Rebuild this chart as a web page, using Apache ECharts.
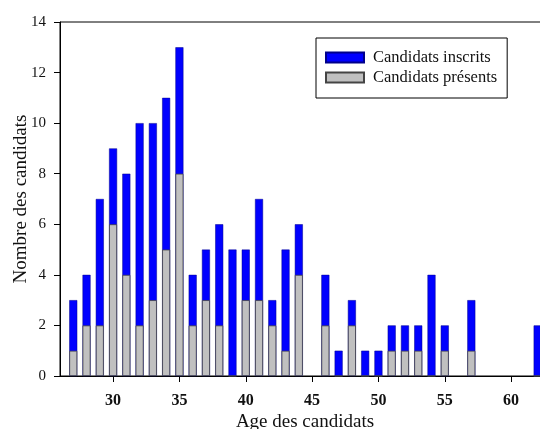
<!DOCTYPE html>
<html><head><meta charset="utf-8">
<script src="https://cdn.jsdelivr.net/npm/echarts@6/dist/echarts.min.js"></script>
<style>html,body{margin:0;padding:0;background:#fff}#c{width:540px;height:429px}</style>
</head><body><div id="c"></div>
<script>
const ages     = [27,28,29,30,31,32,33,34,35,36,37,38,39,40,41,42,43,44,46,47,48,49,50,51,52,53,54,55,57,62];
const inscrits = [ 3, 4, 7, 9, 8,10,10,11,13, 4, 5, 6, 5, 5, 7, 3, 5, 6, 4, 1, 3, 1, 1, 2, 2, 2, 4, 2, 3, 2];
const presents = [ 1, 2, 2, 6, 4, 2, 3, 5, 8, 2, 3, 2, 0, 3, 3, 2, 1, 4, 2, 0, 2, 0, 0, 1, 1, 1, 0, 1, 1, 0];
const xTicks   = [30,35,40,45,50,55,60];

const font = '"Liberation Serif","Times New Roman",serif';
const chart = echarts.init(document.getElementById('c'), null, {renderer:'canvas'});
chart.setOption({
  backgroundColor:'#fff',
  animation:false,
  grid:{left:60, top:22, width:490, height:354, show:true, borderColor:'#000', borderWidth:1,
        outerBoundsMode:'none', containLabel:false},
  legend:{
    orient:'vertical', left:316, top:38,
    borderColor:'#000', borderWidth:1, padding:[11,10,12,9],
    itemWidth:38, itemHeight:10, itemGap:3,
    icon:'rect',
    textStyle:{fontFamily:font, fontSize:16.5, color:'#111', padding:[0,0,0,4]},
    data:['Candidats inscrits','Candidats présents']
  },
  xAxis:{
    type:'value', min:26, max:62.93,
    name:'Age des candidats', nameLocation:'middle', nameGap:37, nameMoveOverlap:false,
    nameTextStyle:{fontFamily:font, fontSize:19, color:'#111'},
    splitLine:{show:false},
    axisLine:{lineStyle:{color:'#000', width:1}},
    axisTick:{show:true, length:6, lineStyle:{color:'#000'}, customValues:xTicks},
    axisLabel:{fontFamily:font, fontSize:16, fontWeight:'bold', color:'#111', margin:17, customValues:xTicks}
  },
  yAxis:{
    type:'value', min:0, max:14, interval:2,
    name:'Nombre des candidats', nameLocation:'middle', nameGap:29, nameMoveOverlap:false,
    nameTextStyle:{fontFamily:font, fontSize:19, color:'#111'},
    splitLine:{show:false},
    axisLine:{show:true, lineStyle:{color:'#000', width:1}},
    axisTick:{show:true, length:6, lineStyle:{color:'#000'}},
    axisLabel:{fontFamily:font, fontSize:15, color:'#111', margin:14}
  },
  series:[
    {name:'Candidats inscrits', type:'bar', barWidth:8, barGap:'-100%',
     itemStyle:{color:'#0000ff', borderColor:'#00008a', borderWidth:0.5},
     data:ages.map((a,i)=>[a,inscrits[i]])},
    {name:'Candidats présents', type:'bar', barWidth:8, barGap:'-100%',
     itemStyle:{color:'#c0c0c0', borderColor:'#444', borderWidth:0.8},
     data:ages.map((a,i)=>[a,presents[i]])}
  ]
});
</script></body></html>
